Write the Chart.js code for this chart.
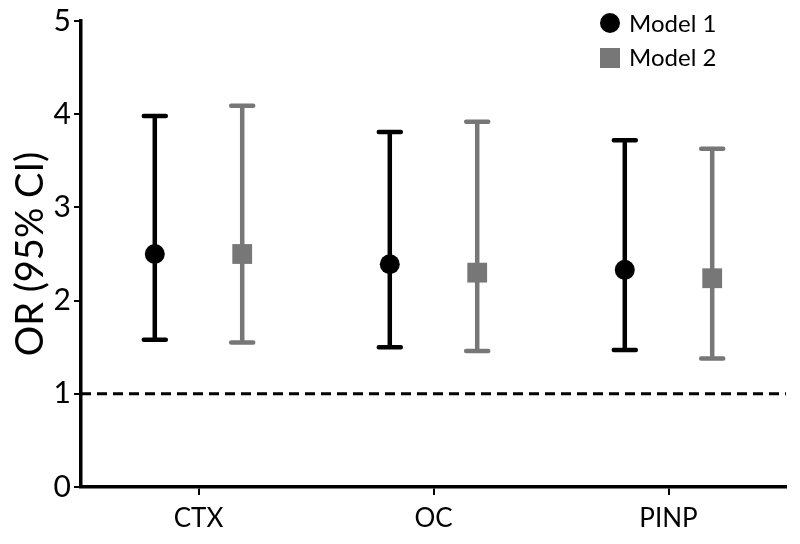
<!DOCTYPE html>
<html>
<head>
<meta charset="utf-8">
<title>OR (95% CI)</title>
<script src="https://cdn.jsdelivr.net/npm/chart.js@4.4.1/dist/chart.umd.min.js"></script>
<style>
  html, body { margin: 0; padding: 0; background: #fff; }
  #wrap { width: 800px; height: 544px; }
</style>
</head>
<body>
<div id="wrap"><canvas id="orChart"></canvas></div>
<script>
// Data
const categories = ['CTX', 'OC', 'PINP'];
const model1Or = [2.50, 2.39, 2.33];
const model1Low = [1.58, 1.50, 1.47];
const model1High = [3.98, 3.81, 3.72];
const model2Or = [2.50, 2.30, 2.24];
const model2Low = [1.55, 1.46, 1.38];
const model2High = [4.09, 3.92, 3.63];
const yTicks = [0, 1, 2, 3, 4, 5];
const refLine = 1;

const FONT = 'Lato, "Noto Sans", sans-serif';
const BLACK = '#000000';
const GREY = '#777777';
const SHIFT = 0.186; // horizontal offset of each model from the category centre

function points(values, dx) {
  return values.map((v, i) => ({ x: i + dx, y: v }));
}

// error bars + reference line + legend
const errorBars = {
  id: 'errorBars',
  beforeDatasetsDraw(chart) {
    const { ctx, chartArea, scales: { x, y } } = chart;
    // dashed line at OR = 1
    ctx.save();
    ctx.strokeStyle = BLACK;
    ctx.lineWidth = 3;
    ctx.setLineDash([10, 6]);
    ctx.beginPath();
    ctx.moveTo(chartArea.left, y.getPixelForValue(refLine));
    ctx.lineTo(chartArea.right, y.getPixelForValue(refLine));
    ctx.stroke();
    ctx.setLineDash([]);

    const sets = [
      { low: model1Low, high: model1High, dx: -SHIFT, color: BLACK },
      { low: model2Low, high: model2High, dx: SHIFT, color: GREY }
    ];
    sets.forEach(s => {
      ctx.strokeStyle = s.color;
      ctx.lineWidth = 4.5;
      ctx.lineCap = 'round';
      s.low.forEach((lo, i) => {
        const px = x.getPixelForValue(i + s.dx);
        const top = y.getPixelForValue(s.high[i]);
        const bot = y.getPixelForValue(lo);
        ctx.beginPath();
        ctx.moveTo(px, top);
        ctx.lineTo(px, bot);
        ctx.moveTo(px - 11, top);
        ctx.lineTo(px + 11, top);
        ctx.moveTo(px - 11, bot);
        ctx.lineTo(px + 11, bot);
        ctx.stroke();
      });
    });
    ctx.restore();
  },
  afterDraw(chart) {
    const ctx = chart.ctx;
    ctx.save();
    ctx.fillStyle = BLACK;
    ctx.beginPath();
    ctx.arc(610, 23, 10, 0, Math.PI * 2);
    ctx.fill();
    ctx.fillStyle = GREY;
    ctx.fillRect(600, 48, 20, 20);
    ctx.fillStyle = BLACK;
    ctx.font = '24px ' + FONT;
    ctx.textBaseline = 'middle';
    ctx.fillText('Model 1', 629, 24);
    ctx.fillText('Model 2', 629, 58);
    ctx.restore();
  }
};

const ctx = document.getElementById('orChart').getContext('2d');
const orChart = new Chart(ctx, {
  type: 'scatter',
  data: {
    datasets: [{
      label: 'Model 1',
      data: points(model1Or, -SHIFT),
      pointStyle: 'circle',
      pointRadius: 10,
      pointHoverRadius: 10,
      backgroundColor: BLACK,
      borderColor: BLACK,
      borderWidth: 0
    }, {
      label: 'Model 2',
      data: points(model2Or, SHIFT),
      pointStyle: 'rect',
      pointRadius: 14,
      pointHoverRadius: 14,
      backgroundColor: GREY,
      borderColor: GREY,
      borderWidth: 0
    }]
  },
  options: {
    responsive: true,
    maintainAspectRatio: false,
    animation: false,
    layout: { padding: { top: 2, right: 8, left: 8, bottom: 0 } },
    plugins: {
      legend: { display: false },
      tooltip: { enabled: false }
    },
    scales: {
      x: {
        type: 'linear',
        min: -0.5,
        max: categories.length - 0.5,
        afterBuildTicks: scale => {
          scale.ticks = categories.map((c, i) => ({ value: i }));
        },
        afterFit: scale => { scale.height = 57; },
        ticks: {
          callback: v => categories[v],
          color: BLACK,
          font: { family: FONT, size: 26 },
          padding: 8,
          maxRotation: 0
        },
        grid: {
          drawOnChartArea: false,
          color: BLACK,
          lineWidth: 2,
          tickLength: 8
        },
        border: { color: BLACK, width: 3.5 }
      },
      y: {
        min: 0,
        max: 5,
        afterBuildTicks: scale => {
          scale.ticks = yTicks.map(v => ({ value: v }));
        },
        afterFit: scale => { scale.width = 73; },
        ticks: {
          color: BLACK,
          font: { family: FONT, size: 30 },
          padding: 3
        },
        grid: {
          drawOnChartArea: false,
          color: BLACK,
          lineWidth: 2,
          tickLength: 7
        },
        border: { color: BLACK, width: 3.5 },
        title: {
          display: true,
          text: 'OR (95% CI)',
          color: BLACK,
          font: { family: FONT, size: 38 },
          padding: 0
        }
      }
    }
  },
  plugins: [errorBars]
});
</script>
</body>
</html>
